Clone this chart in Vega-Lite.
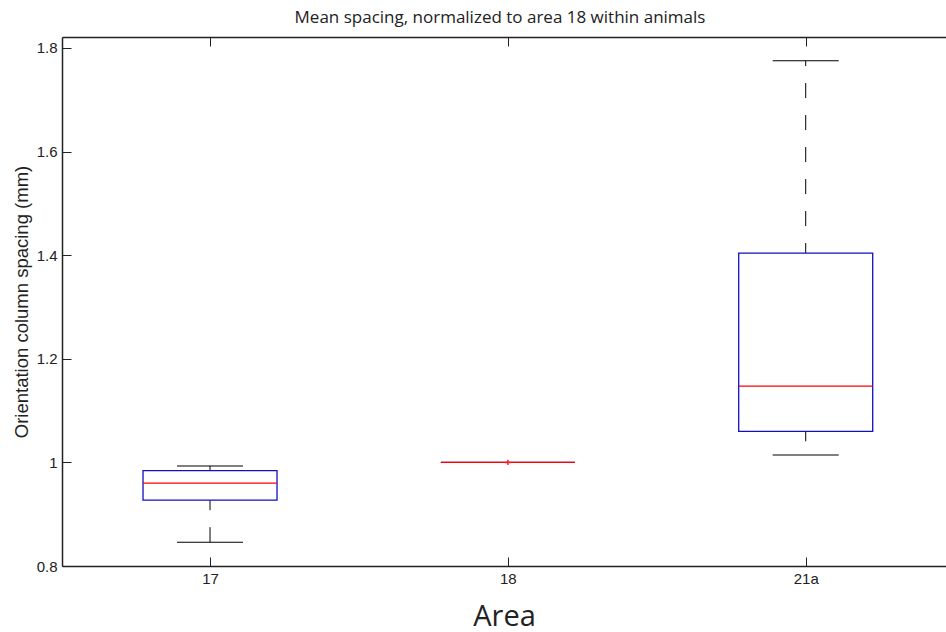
{
  "$schema": "https://vega.github.io/schema/vega-lite/v6.json",
  "autosize": "none",
  "width": 884,
  "height": 529,
  "padding": {"left": 62, "top": 37, "right": 0, "bottom": 66},
  "background": "white",
  "title": {
    "text": "Mean spacing, normalized to area 18 within animals",
    "font": "Open Sans",
    "fontSize": 17,
    "fontWeight": "normal",
    "color": "#222222",
    "anchor": "middle",
    "dx": -4,
    "offset": 10
  },
  "datasets": {
    "boxes": [
      {"area": "17", "lower": 0.846, "q1": 0.927, "median": 0.960, "q3": 0.984, "upper": 0.993},
      {"area": "18", "lower": 1.0, "q1": 1.0, "median": 1.0, "q3": 1.0, "upper": 1.0},
      {"area": "21a", "lower": 1.014, "q1": 1.060, "median": 1.147, "q3": 1.404, "upper": 1.775}
    ],
    "outliers": [
      {"area": "18", "value": 1.0}
    ]
  },
  "layer": [
    {
      "data": {"name": "boxes"},
      "encoding": {
        "x": {
          "field": "area",
          "type": "nominal",
          "sort": ["17", "18", "21a"],
          "scale": {"type": "point", "padding": 0.484, "align": 0.5134},
          "axis": {
            "orient": "bottom",
            "title": "Area",
            "titleFont": "Open Sans",
            "titleFontSize": 29,
            "titleFontWeight": "normal",
            "titleColor": "#222222",
            "titlePadding": 16,
            "labelFont": "Liberation Sans",
            "labelFontSize": 15,
            "labelFontWeight": "normal",
            "labelColor": "#222222",
            "labelPadding": 14,
            "labelAngle": 0,
            "domainColor": "#222222",
            "domainWidth": 1.5,
            "tickColor": "#222222",
            "tickSize": -9,
            "tickWidth": 1,
            "grid": false
          }
        }
      },
      "layer": [
        {
          "mark": {"type": "rule", "color": "#000000", "strokeWidth": 1, "strokeDash": [15, 17], "strokeDashOffset": 5},
          "encoding": {
            "y": {
              "field": "q3",
              "type": "quantitative",
              "scale": {"domain": [0.8, 1.821], "nice": false, "zero": false},
              "axis": {
                "orient": "left",
                "title": "Orientation column spacing (mm)",
                "titleFont": "Liberation Sans",
                "titleFontSize": 18.5,
                "titleFontWeight": "normal",
                "titleColor": "#222222",
                "titlePadding": 5,
                "values": [0.8, 1, 1.2, 1.4, 1.6, 1.8],
                "format": ".1~f",
                "labelFont": "Liberation Sans",
                "labelFontSize": 15,
                "labelColor": "#222222",
                "labelPadding": 14,
                "domainColor": "#222222",
                "domainWidth": 1.5,
                "tickColor": "#222222",
                "tickSize": -9,
                "tickWidth": 1,
                "grid": false
              }
            },
            "y2": {"field": "upper"}
          }
        },
        {
          "mark": {"type": "rule", "color": "#000000", "strokeWidth": 1, "strokeDash": [15, 17], "strokeDashOffset": 5},
          "encoding": {
            "y": {"field": "q1", "type": "quantitative"},
            "y2": {"field": "lower"}
          }
        },
        {
          "mark": {"type": "tick", "color": "#000000", "size": 66, "thickness": 1, "opacity": 1},
          "encoding": {"y": {"field": "upper", "type": "quantitative"}}
        },
        {
          "mark": {"type": "tick", "color": "#000000", "size": 66, "thickness": 1, "opacity": 1},
          "encoding": {"y": {"field": "lower", "type": "quantitative"}}
        },
        {
          "mark": {"type": "bar", "size": 134, "fill": "white", "fillOpacity": 0, "stroke": "#1010c0", "strokeWidth": 1.3},
          "encoding": {
            "y": {"field": "q1", "type": "quantitative"},
            "y2": {"field": "q3"}
          }
        },
        {
          "mark": {"type": "tick", "color": "#ff0000", "size": 134, "thickness": 1.2, "opacity": 1},
          "encoding": {"y": {"field": "median", "type": "quantitative"}}
        },
        {
          "data": {"name": "outliers"},
          "mark": {"type": "point", "shape": "M-1,0H1M0,-1V1", "size": 30, "stroke": "#ff2020", "strokeWidth": 1.5, "filled": false, "opacity": 1},
          "encoding": {"y": {"field": "value", "type": "quantitative"}}
        }
      ]
    },
    {
      "data": {"name": "boxes"},
      "mark": {"type": "rule", "opacity": 0},
      "encoding": {
        "y": {"field": "median", "type": "quantitative", "axis": null},
        "x": {
          "field": "area",
          "type": "nominal",
          "sort": ["17", "18", "21a"],
          "axis": {
            "orient": "top",
            "title": null,
            "labels": false,
            "domainColor": "#222222",
            "domainWidth": 1.5,
            "tickColor": "#222222",
            "tickSize": -9,
            "tickWidth": 1,
            "grid": false
          }
        }
      }
    }
  ],
  "resolve": {"axis": {"x": "independent", "y": "independent"}},
  "config": {"view": {"stroke": null}}
}
